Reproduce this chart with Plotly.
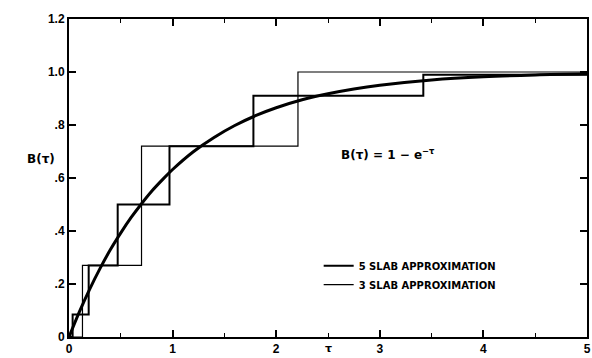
import plotly.graph_objects as go

# Exact curve B(tau) = 1 - exp(-tau)
tau_curve = [0, 0.1, 0.2, 0.3, 0.4, 0.5, 0.6, 0.7, 0.8, 0.9, 1.0, 1.2, 1.4, 1.6, 1.8,
             2.0, 2.25, 2.5, 2.75, 3.0, 3.5, 4.0, 4.5, 5.0]
b_curve = [0, 0.095, 0.181, 0.259, 0.330, 0.393, 0.451, 0.503, 0.551, 0.593, 0.632,
           0.699, 0.753, 0.798, 0.835, 0.865, 0.895, 0.918, 0.936, 0.950, 0.970,
           0.982, 0.989, 0.993]

# 5-slab step approximation: breakpoints and levels
tau_5 = [0, 0.035, 0.19, 0.47, 0.97, 1.78, 3.42, 5.0]
b_5 = [0, 0.085, 0.27, 0.50, 0.72, 0.91, 0.99, 0.99]

# 3-slab step approximation: breakpoints and levels
tau_3 = [0, 0.13, 0.70, 2.21, 5.0]
b_3 = [0, 0.27, 0.72, 1.0, 1.0]

x_ticks = [0, 1, 2, 3, 4, 5]
x_labels = ["0", "1", "2", "3", "4", "5"]
y_ticks = [0, 0.2, 0.4, 0.6, 0.8, 1.0, 1.2]
y_labels = ["0", ".2", ".4", ".6", ".8", "1.0", "1.2"]

FONT = "Liberation Sans"
WIDE = "DejaVu Sans"

fig = go.Figure()
fig.add_trace(go.Scatter(x=tau_curve, y=b_curve, mode="lines", line_shape="spline",
                         line=dict(color="black", width=3), showlegend=False))
fig.add_trace(go.Scatter(x=tau_5, y=b_5, mode="lines", line_shape="hv",
                         line=dict(color="black", width=2),
                         name="5 SLAB APPROXIMATION"))
fig.add_trace(go.Scatter(x=tau_3, y=b_3, mode="lines", line_shape="hv",
                         line=dict(color="black", width=1.2),
                         name="3 SLAB APPROXIMATION"))

axis_common = dict(showgrid=False, zeroline=False, showline=True, linecolor="black",
                   linewidth=2, mirror="ticks", ticks="inside", tickcolor="black",
                   tickwidth=1.5, ticklen=7, ticklabeloverflow="allow",
                   tickfont=dict(family=FONT, size=12, color="black", weight="bold"))

fig.update_xaxes(range=[0, 5], tickvals=x_ticks, ticktext=x_labels,
                 minor=dict(dtick=0.5, ticks="inside", ticklen=4, tickwidth=1.2,
                            tickcolor="black"),
                 **axis_common)
fig.update_yaxes(range=[0, 1.2], tickvals=y_ticks, ticktext=y_labels, **axis_common)

fig.add_annotation(text="B(τ)", xref="paper", yref="paper", x=-0.085, y=0.56,
                   showarrow=False, font=dict(family=WIDE, size=12, color="black",
                                              weight="bold"))
fig.add_annotation(text="τ", xref="paper", yref="paper", x=0.5, y=-0.064,
                   yanchor="bottom", showarrow=False,
                   font=dict(family=WIDE, size=11, color="black", weight="bold"))
fig.add_annotation(text="B(τ) = 1 − e<sup>−τ</sup>", x=3.08, y=0.69, showarrow=False,
                   font=dict(family=WIDE, size=12, color="black", weight="bold"))

fig.update_layout(
    width=592, height=358,
    margin=dict(l=69, r=1, t=19, b=21),
    paper_bgcolor="white", plot_bgcolor="white",
    legend=dict(x=0.482, y=0.27, xanchor="left", yanchor="top",
                bgcolor="rgba(0,0,0,0)",
                font=dict(family=WIDE, size=10, color="black", weight="bold"),
                tracegroupgap=0),
)

fig.write_html("out.html")
